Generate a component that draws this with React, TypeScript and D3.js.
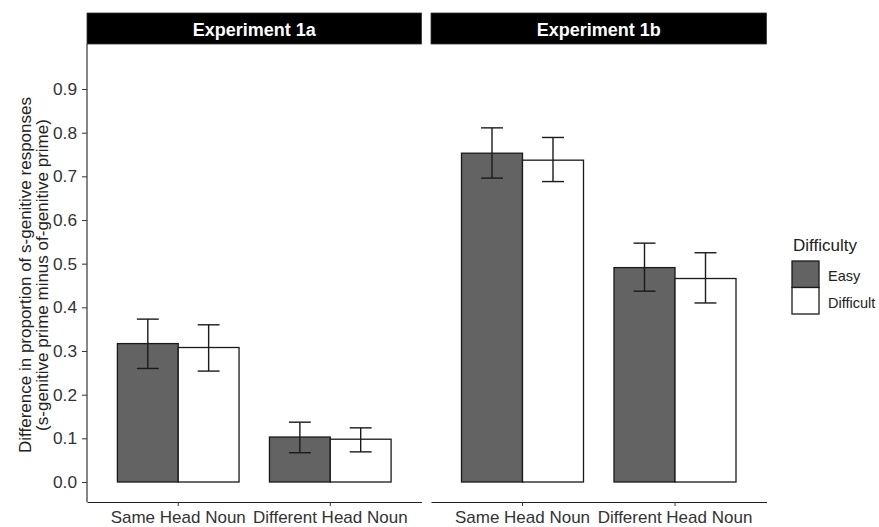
import { useEffect, useRef } from "react";
import * as d3 from "d3";

const experiments = ["Experiment 1a", "Experiment 1b"];
const headNouns = ["Same Head Noun", "Different Head Noun"];
const difficulties = ["Easy", "Difficult"];
const yTicks = [0, 0.1, 0.2, 0.3, 0.4, 0.5, 0.6, 0.7, 0.8, 0.9];

// per head noun: [Same, Different]
const easyMean1a = [0.317, 0.103];
const easyLow1a = [0.260, 0.067];
const easyHigh1a = [0.373, 0.137];
const diffMean1a = [0.308, 0.098];
const diffLow1a = [0.254, 0.069];
const diffHigh1a = [0.360, 0.124];

const easyMean1b = [0.753, 0.491];
const easyLow1b = [0.696, 0.437];
const easyHigh1b = [0.811, 0.547];
const diffMean1b = [0.737, 0.466];
const diffLow1b = [0.688, 0.410];
const diffHigh1b = [0.789, 0.525];

const FILLS = { Easy: "#636363", Difficult: "#ffffff" };
const FONT = "'Liberation Sans', Arial, sans-serif";

type Row = { exp: string; noun: string; diff: string; mean: number; lo: number; hi: number };

function buildRows(): Row[] {
  const rows: Row[] = [];
  const src = [
    [easyMean1a, easyLow1a, easyHigh1a, diffMean1a, diffLow1a, diffHigh1a],
    [easyMean1b, easyLow1b, easyHigh1b, diffMean1b, diffLow1b, diffHigh1b],
  ];
  experiments.forEach((exp, e) => {
    const [em, el, eh, dm, dl, dh] = src[e];
    headNouns.forEach((noun, i) => {
      rows.push({ exp, noun, diff: "Easy", mean: em[i], lo: el[i], hi: eh[i] });
      rows.push({ exp, noun, diff: "Difficult", mean: dm[i], lo: dl[i], hi: dh[i] });
    });
  });
  return rows;
}

export default function App() {
  const svgRef = useRef<SVGSVGElement>(null);

  useEffect(() => {
    const W = 879, H = 527;
    const svg = d3.select(svgRef.current).attr("width", W).attr("height", H);
    svg.selectAll("*").remove();

    const rows = buildRows();
    const panelTop = 44, panelBottom = 502;
    const panels = [
      { exp: experiments[0], x0: 87, x1: 421.5 },
      { exp: experiments[1], x0: 431, x1: 766.5 },
    ];

    const y = d3.scaleLinear().domain([0, 0.9]).range([482, 89]);

    panels.forEach((p, pi) => {
      const g = svg.append("g");
      const x = d3.scaleBand().domain(headNouns).range([p.x0, p.x1]).paddingInner(0).paddingOuter(0.1);
      const xs = d3.scaleBand().domain(difficulties).range([0, x.bandwidth()]).paddingInner(0).paddingOuter(0.25);

      // strip
      g.append("rect")
        .attr("x", p.x0).attr("y", 13)
        .attr("width", p.x1 - p.x0).attr("height", panelTop - 13)
        .attr("fill", "#000").attr("stroke", "#333").attr("stroke-width", 0.8);
      g.append("text")
        .attr("x", (p.x0 + p.x1) / 2).attr("y", 29.5)
        .attr("text-anchor", "middle").attr("dominant-baseline", "central")
        .attr("fill", "#fff").attr("font-family", FONT).attr("font-weight", "bold").attr("font-size", 18)
        .text(p.exp);

      const data = rows.filter(r => r.exp === p.exp);

      // bars
      g.selectAll("rect.bar").data(data).join("rect")
        .attr("class", "bar")
        .attr("x", d => x(d.noun)! + xs(d.diff)!)
        .attr("y", d => y(d.mean))
        .attr("width", xs.bandwidth())
        .attr("height", d => y(0) - y(d.mean))
        .attr("fill", d => FILLS[d.diff as keyof typeof FILLS])
        .attr("stroke", "#1a1a1a").attr("stroke-width", 1.3);

      // error bars
      const ew = xs.bandwidth() * 0.36;
      const eb = g.selectAll("g.err").data(data).join("g").attr("class", "err")
        .attr("transform", d => `translate(${x(d.noun)! + xs(d.diff)! + xs.bandwidth() / 2},0)`);
      eb.append("line").attr("x1", 0).attr("x2", 0)
        .attr("y1", d => y(d.lo)).attr("y2", d => y(d.hi));
      eb.append("line").attr("x1", -ew / 2).attr("x2", ew / 2)
        .attr("y1", d => y(d.lo)).attr("y2", d => y(d.lo));
      eb.append("line").attr("x1", -ew / 2).attr("x2", ew / 2)
        .attr("y1", d => y(d.hi)).attr("y2", d => y(d.hi));
      eb.selectAll("line").attr("stroke", "#1a1a1a").attr("stroke-width", 1.4);

      // x axis
      g.append("g").attr("transform", `translate(0,${panelBottom})`)
        .call(d3.axisBottom(x).tickSize(4).tickSizeOuter(0).tickPadding(5))
        .call(ax => ax.select(".domain").attr("stroke", "#222").attr("stroke-width", 1.1))
        .call(ax => ax.selectAll(".tick line").attr("stroke", "#333"))
        .call(ax => ax.selectAll("text").attr("fill", "#333").attr("font-size", 17).attr("font-family", FONT));

      // y axis only on first panel
      if (pi === 0) {
        g.append("line")
          .attr("x1", p.x0).attr("x2", p.x0)
          .attr("y1", panelTop).attr("y2", panelBottom)
          .attr("stroke", "#222").attr("stroke-width", 1.1);
        g.append("g").attr("transform", `translate(${p.x0},0)`)
          .call(d3.axisLeft(y).tickValues(yTicks).tickFormat(d3.format(".1f")).tickSize(5).tickPadding(5))
          .call(ax => ax.select(".domain").remove())
          .call(ax => ax.selectAll(".tick line").attr("stroke", "#333"))
          .call(ax => ax.selectAll("text").attr("fill", "#333").attr("font-size", 17.3).attr("font-family", FONT));
      }
    });

    // y title
    const yt = svg.append("text")
      .attr("transform", `translate(31,275) rotate(-90)`)
      .attr("text-anchor", "middle")
      .attr("font-family", FONT).attr("font-size", 17).attr("fill", "#222");
    yt.append("tspan").attr("x", 0).attr("dy", 0).text("Difference in proportion of s-genitive responses");
    yt.append("tspan").attr("x", 0).attr("dy", 17).text("(s-genitive prime minus of-genitive prime)");

    // legend
    const lg = svg.append("g");
    lg.append("text").attr("x", 793).attr("y", 251)
      .attr("font-family", FONT).attr("font-size", 17).attr("fill", "#222").text("Difficulty");
    const key = d3.scaleBand().domain(difficulties).range([261, 314]);
    difficulties.forEach(dif => {
      lg.append("rect")
        .attr("x", 792).attr("y", key(dif)!)
        .attr("width", 27).attr("height", key.bandwidth())
        .attr("fill", FILLS[dif as keyof typeof FILLS]).attr("stroke", "#1a1a1a").attr("stroke-width", 1.3);
      lg.append("text")
        .attr("x", 828).attr("y", key(dif)! + key.bandwidth() / 2 + 2)
        .attr("dominant-baseline", "central")
        .attr("font-family", FONT).attr("font-size", 14.5).attr("fill", "#222").text(dif);
    });
  }, []);

  return (
    <div style={{ position: "absolute", left: 0, top: 0, width: 879, height: 527, background: "#fff" }}>
      <svg ref={svgRef} style={{ display: "block" }} />
    </div>
  );
}
